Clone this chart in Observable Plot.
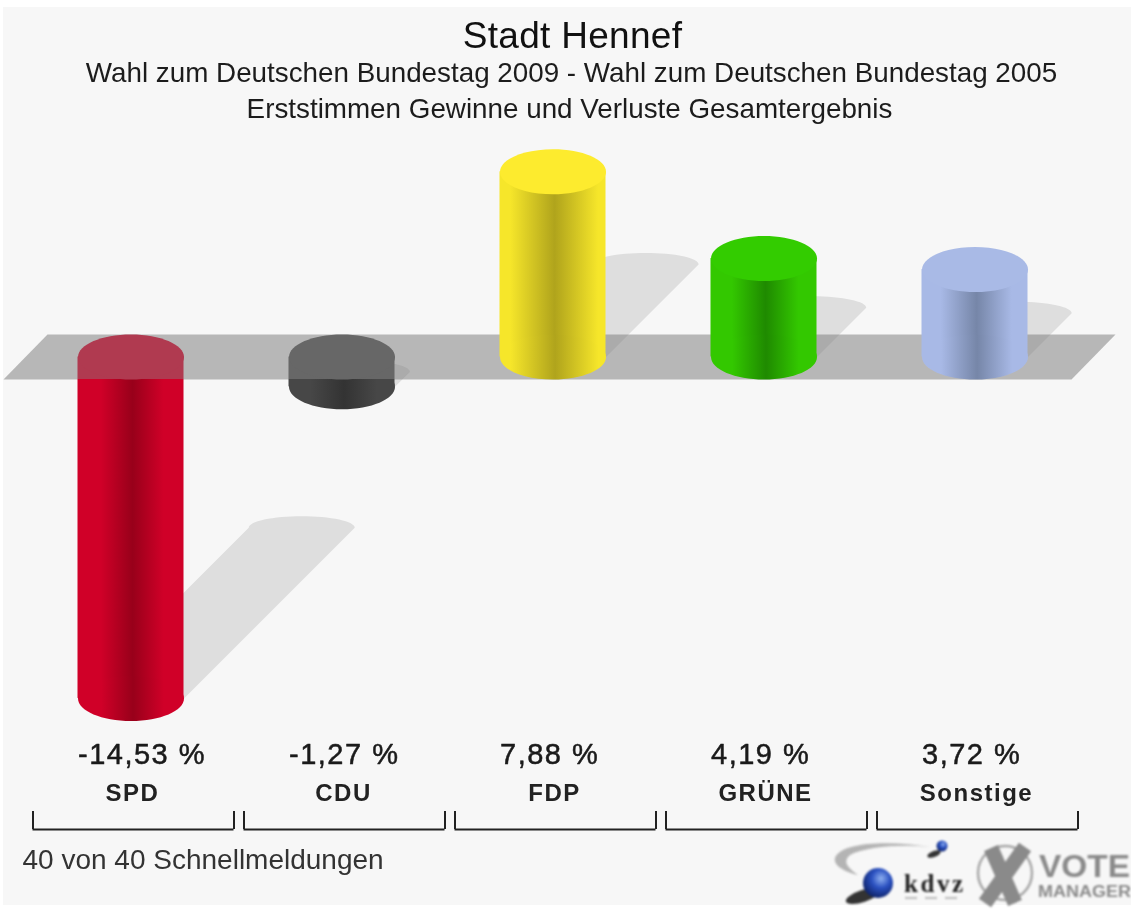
<!DOCTYPE html>
<html lang="de">
<head>
<meta charset="utf-8">
<title>Stadt Hennef</title>
<script src="https://cdn.jsdelivr.net/npm/d3@7"></script>
<script src="https://cdn.jsdelivr.net/npm/@observablehq/plot@0.6"></script>
<style>
  html, body { margin: 0; padding: 0; background: #fff; width: 1131px; height: 911px; overflow: hidden; }
  #bg { position: absolute; left: 3px; top: 7px; width: 1128px; height: 898px; background: #f7f7f7; }
  #head { position: absolute; left: 0; top: 0; width: 1131px; height: 130px; font-family: "Liberation Sans", Arial, sans-serif; text-align: center; color: #1c1c1c; filter: blur(0.6px); }
  #head div { position: absolute; white-space: nowrap; transform: translateX(-50%); }
  #t1 { left: 572.5px; top: 14px; font-size: 37px; line-height: 44px; letter-spacing: 0.3px; color: #111; }
  #t2 { left: 571.5px; top: 57px; font-size: 27.8px; line-height: 32px; }
  #t3 { left: 569.5px; top: 93px; font-size: 27.8px; line-height: 32px; }
  #chart { position: absolute; left: 0; top: 130px; filter: blur(0.6px); }
  #logos { position: absolute; left: 0; top: 0; filter: blur(0.8px); }
</style>
</head>
<body>
<div id="bg"></div>
<div id="head">
  <div id="t1">Stadt Hennef</div>
  <div id="t2">Wahl zum Deutschen Bundestag 2009 - Wahl zum Deutschen Bundestag 2005</div>
  <div id="t3">Erststimmen Gewinne und Verluste Gesamtergebnis</div>
</div>
<div id="chart"></div>
<svg id="logos" width="1131" height="911" font-family="Liberation Sans, Arial, sans-serif">
  <defs>
    <radialGradient id="sphere" cx="0.6" cy="0.35" r="0.7">
      <stop offset="0" stop-color="#8fb0f0"/><stop offset="0.45" stop-color="#2a50c0"/><stop offset="1" stop-color="#0c1f60"/>
    </radialGradient>
  </defs>
  <path d="M930 847 C 890 840, 840 842, 835 858 C 833 866, 846 872, 858 875 C 848 868, 842 862, 850 855 C 865 847, 900 844, 930 847 Z" fill="#b4b4b4"/>
  <ellipse cx="863" cy="896" rx="18" ry="6" fill="#333" transform="rotate(-18 863 896)"/>
  <circle cx="878" cy="883" r="15" fill="url(#sphere)"/>
  <ellipse cx="934" cy="854" rx="7" ry="3" fill="#333" transform="rotate(-20 934 854)"/>
  <circle cx="942" cy="846" r="5.5" fill="url(#sphere)"/>
  <text x="904" y="892" font-family="Liberation Serif, serif" font-weight="bold" font-size="25" letter-spacing="2.6" fill="#222">kdvz</text>
  <path d="M905 898 H965" stroke="#aaa" stroke-width="1.5" stroke-dasharray="12 8"/>
  <circle cx="1005" cy="873" r="27" fill="none" stroke="#a8a8a8" stroke-width="2.5"/>
  <path d="M991 848 L1015 903 M1025 847 L985 903" stroke="#8a8a8a" stroke-width="15" fill="none"/>
  <text x="1039" y="877" font-weight="bold" font-size="31" textLength="91" lengthAdjust="spacingAndGlyphs" fill="#8a8a8a">VOTE</text>
  <text x="1038" y="897" font-weight="bold" font-size="16" textLength="93" lengthAdjust="spacingAndGlyphs" fill="#8a8a8a">MANAGER</text>
</svg>
<script>
// ---- data ----
const parties = ["SPD", "CDU", "FDP", "GRÜNE", "Sonstige"];
const changes = [-14.53, -1.27, 7.88, 4.19, 3.72];
const changeLabels = ["-14,53 %", "-1,27 %", "7,88 %", "4,19 %", "3,72 %"];
const baseColors = ["#d00028", "#474747", "#f6e62a", "#33c800", "#a8b9e6"];
const darkColors = ["#98001a", "#333333", "#b0a41c", "#1f8a00", "#7686a8"];
const capColors  = ["#d00028", "#4a4a4a", "#fdeb2e", "#33cc00", "#a9bae6"];
const underPlaneColors = ["#b03a50", "#676767", null, null, null];
const gradEdges = [0.22, 0.2, 0.1, 0.2, 0.18];
const footnote = "40 von 40 Schnellmeldungen";

// ---- scales: x in category slots, y in percentage points ----
const W = 1131, H = 781, TOP = 130;
const slotPx = 211, firstPx = 130.5, unitPx = 23.5, zeroPx = 356.5;
const rxPx = 53, ryPx = 22.5, shadowRyPx = 11.5;
const halfW = rxPx / slotPx;
const ryV = ryPx / unitPx;
const vAt = (px) => (zeroPx - px) / unitPx;           // page y -> value
const sAt = (px) => (px - firstPx) / slotPx;          // page x -> slot
const shadowShift = 0.5;                              // shadow shear per bar height

const ellipse = { draw(c, size) {
  const rx = Math.sqrt(size / Math.PI), ry = rx * ryPx / rxPx, k = 0.5523;
  c.moveTo(-rx, 0);
  c.bezierCurveTo(-rx, -k * ry, -k * rx, -ry, 0, -ry);
  c.bezierCurveTo(k * rx, -ry, rx, -k * ry, rx, 0);
  c.bezierCurveTo(rx, k * ry, k * rx, ry, 0, ry);
  c.bezierCurveTo(-k * rx, ry, -rx, k * ry, -rx, 0);
  c.closePath();
}};

const rows = parties.map((party, i) => {
  const v = changes[i], h = Math.abs(v);
  const base = Math.min(v, 0);                         // level where the bar stands
  const dx = h * unitPx * shadowShift / slotPx;
  const endV = base + h * shadowShift;
  return { party, i, v, base, dx, endV, label: changeLabels[i] };
});
// each shadow: a sheared band from the bar's foot, closed by the upper half of an ellipse
const shadowPolys = rows.flatMap((d) => {
  const pts = [{ i: d.i, x: d.i - halfW, y: d.base }, { i: d.i, x: d.i + halfW, y: d.base }];
  for (let t = 0; t <= 32; t++) {
    const a = Math.PI * t / 32;
    pts.push({ i: d.i, x: d.i + d.dx + halfW * Math.cos(a), y: d.endV + (shadowRyPx / unitPx) * Math.sin(a) });
  }
  return pts;
});
const plane = [
  { x: sAt(3), y: -ryV }, { x: sAt(1071), y: -ryV },
  { x: sAt(1115), y: ryV }, { x: sAt(47), y: ryV }
];
const gradients = () => {
  const defs = d3.create("svg:defs");
  parties.forEach((p, i) => {
    const g = defs.append("linearGradient").attr("id", `cyl${i}`);
    const e = gradEdges[i];
    [[0, baseColors[i]], [e, baseColors[i]], [0.52, darkColors[i]], [1 - e + 0.03, baseColors[i]], [1, baseColors[i]]]
      .forEach(([o, c]) => g.append("stop").attr("offset", o).attr("stop-color", c));
  });
  return defs.node();
};

const barMarks = rows.flatMap((d) => {
  const fill = `url(#cyl${d.i})`;
  const neg = d.v < 0;
  const bodyTop = neg ? -ryV : d.v;
  const bodyBottom = neg ? d.v : 0;
  const marks = [
    Plot.rect([d], { x1: (r) => r.i - halfW, x2: (r) => r.i + halfW, y1: bodyBottom, y2: bodyTop, fill }),
    Plot.dot([d], { x: "i", y: () => bodyBottom, r: rxPx, symbol: ellipse, fill })
  ];
  if (neg) {
    marks.push(
      Plot.rect([d], { x1: (r) => r.i - halfW, x2: (r) => r.i + halfW, y1: -ryV, y2: 0, fill: underPlaneColors[d.i] }),
      Plot.dot([d], { x: "i", y: () => 0, r: rxPx, symbol: ellipse, fill: underPlaneColors[d.i] })
    );
  } else {
    marks.push(Plot.dot([d], { x: "i", y: "v", r: rxPx, symbol: ellipse, fill: capColors[d.i] }));
  }
  return marks;
});

const bracketRows = rows.map((d) => ({ i: d.i, a: d.i + 2.5 / slotPx - 100.5 / slotPx, b: d.i + 2.5 / slotPx + 100.5 / slotPx }));
const brTop = vAt(811), brBot = vAt(829);
const sans = "Liberation Sans, Arial, sans-serif";

const chart = Plot.plot({
  width: W, height: H, margin: 0,
  style: { background: "transparent", overflow: "visible" },
  x: { type: "linear", domain: [sAt(0), sAt(W)], range: [0, W], axis: null },
  y: { type: "linear", domain: [vAt(TOP + H), vAt(TOP)], range: [H, 0], axis: null },
  marks: [
    gradients,
    Plot.line(shadowPolys, { x: "x", y: "y", z: "i", fill: "#dedede", stroke: "none" }),
    Plot.line(plane, { x: "x", y: "y", fill: "#787878", fillOpacity: 0.5, stroke: "none" }),
    ...barMarks,
    Plot.text(rows, { x: (d) => d.i - halfW, y: () => vAt(754), text: "label", textAnchor: "start", lineAnchor: "middle", fontSize: 29, fontFamily: sans, fill: "#1a1a1a", stroke: "#1a1a1a", strokeWidth: 0.5 }),
    Plot.text(rows, { x: (d) => d.i + 1.5 / slotPx, y: () => vAt(793), text: "party", textAnchor: "middle", lineAnchor: "middle", fontSize: 24, fontWeight: "bold", fontFamily: sans, fill: "#222" }),
    Plot.ruleY(bracketRows, { x1: "a", x2: "b", y: () => brBot, stroke: "#222", strokeWidth: 2 }),
    Plot.ruleX(bracketRows, { x: "a", y1: brTop, y2: brBot, stroke: "#222", strokeWidth: 2 }),
    Plot.ruleX(bracketRows, { x: "b", y1: brTop, y2: brBot, stroke: "#222", strokeWidth: 2 }),
    Plot.text([footnote], { x: () => sAt(22), y: () => vAt(860), text: (d) => d, textAnchor: "start", lineAnchor: "middle", fontSize: 28, fontFamily: sans, fill: "#333" })
  ]
});
chart.querySelectorAll("text").forEach((t) => {
  if (changeLabels.includes(t.textContent)) t.style.letterSpacing = "1.5px";
  if (parties.includes(t.textContent)) t.style.letterSpacing = "1.5px";
});
document.getElementById("chart").appendChild(chart);
</script>
</body>
</html>
